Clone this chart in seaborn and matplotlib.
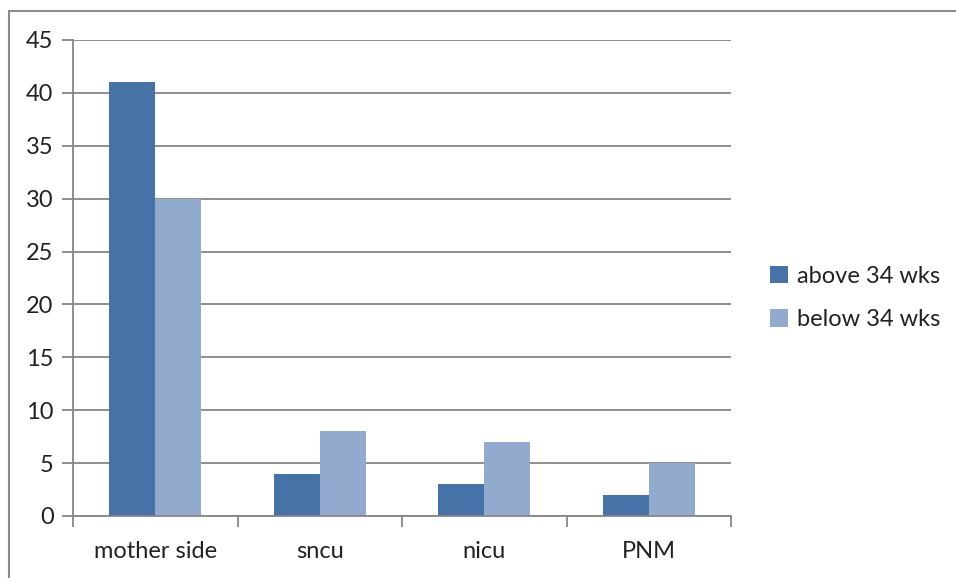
import matplotlib
matplotlib.use("Agg")
import matplotlib.pyplot as plt
import seaborn as sns
import pandas as pd
from matplotlib.patches import Rectangle

categories = ["mother side", "sncu", "nicu", "PNM"]
above_34 = [41, 4, 3, 2]
below_34 = [30, 8, 7, 5]
series_names = ["above 34 wks", "below 34 wks"]
y_ticks = [0, 5, 10, 15, 20, 25, 30, 35, 40, 45]

df = pd.DataFrame({
    "category": categories * 2,
    "value": above_34 + below_34,
    "series": [series_names[0]] * 4 + [series_names[1]] * 4,
})

sns.set_theme(style="white")
plt.rcParams["font.family"] = ["Lato", "DejaVu Sans"]

grid_c = "#868686"
text_c = "#222222"
fs = 17
fig = plt.figure(figsize=(9.56, 5.78), dpi=100)
ax = fig.add_axes([73 / 956, 1 - 516 / 578, 658 / 956, 476 / 578])

sns.barplot(data=df, x="category", y="value", hue="series", order=categories,
            hue_order=series_names, palette=["#4572A7", "#93AACF"],
            width=0.56, saturation=1, ax=ax, legend=True, linewidth=0)

ax.set_xlim(-0.5, 3.5)
ax.set_ylim(0, 45)
ax.set_yticks(y_ticks)
ax.yaxis.grid(True, color=grid_c, linewidth=1.3)
ax.set_axisbelow(True)
ax.set_xlabel("")
ax.set_ylabel("")

for s in ["top", "right"]:
    ax.spines[s].set_visible(False)
for s in ["left", "bottom"]:
    ax.spines[s].set_color(grid_c)
    ax.spines[s].set_linewidth(1.3)

ax.tick_params(axis="y", which="major", left=True, length=8, width=1.3,
               color=grid_c, labelsize=fs, labelcolor=text_c, pad=6)
ax.tick_params(axis="x", which="major", bottom=False, labelsize=fs,
               labelcolor=text_c, pad=12)
ax.set_xticks([-0.5, 0.5, 1.5, 2.5, 3.5], minor=True)
ax.tick_params(axis="x", which="minor", bottom=True, length=8, width=1.3,
               color=grid_c)

leg = ax.legend(loc="center left", bbox_to_anchor=(1.027, 0.458), frameon=False,
                fontsize=fs, handlelength=0.75, handleheight=0.75,
                handletextpad=0.4, labelspacing=0.95)
for t in leg.get_texts():
    t.set_color(text_c)

# outer frame around the chart area
fig.patches.append(Rectangle((9 / 956, -0.01), 1.0, 1 - 11 / 578 + 0.01,
                             transform=fig.transFigure, fill=False,
                             edgecolor="#8c8c8c", linewidth=1.5))

fig.savefig("out.png", dpi=100)
